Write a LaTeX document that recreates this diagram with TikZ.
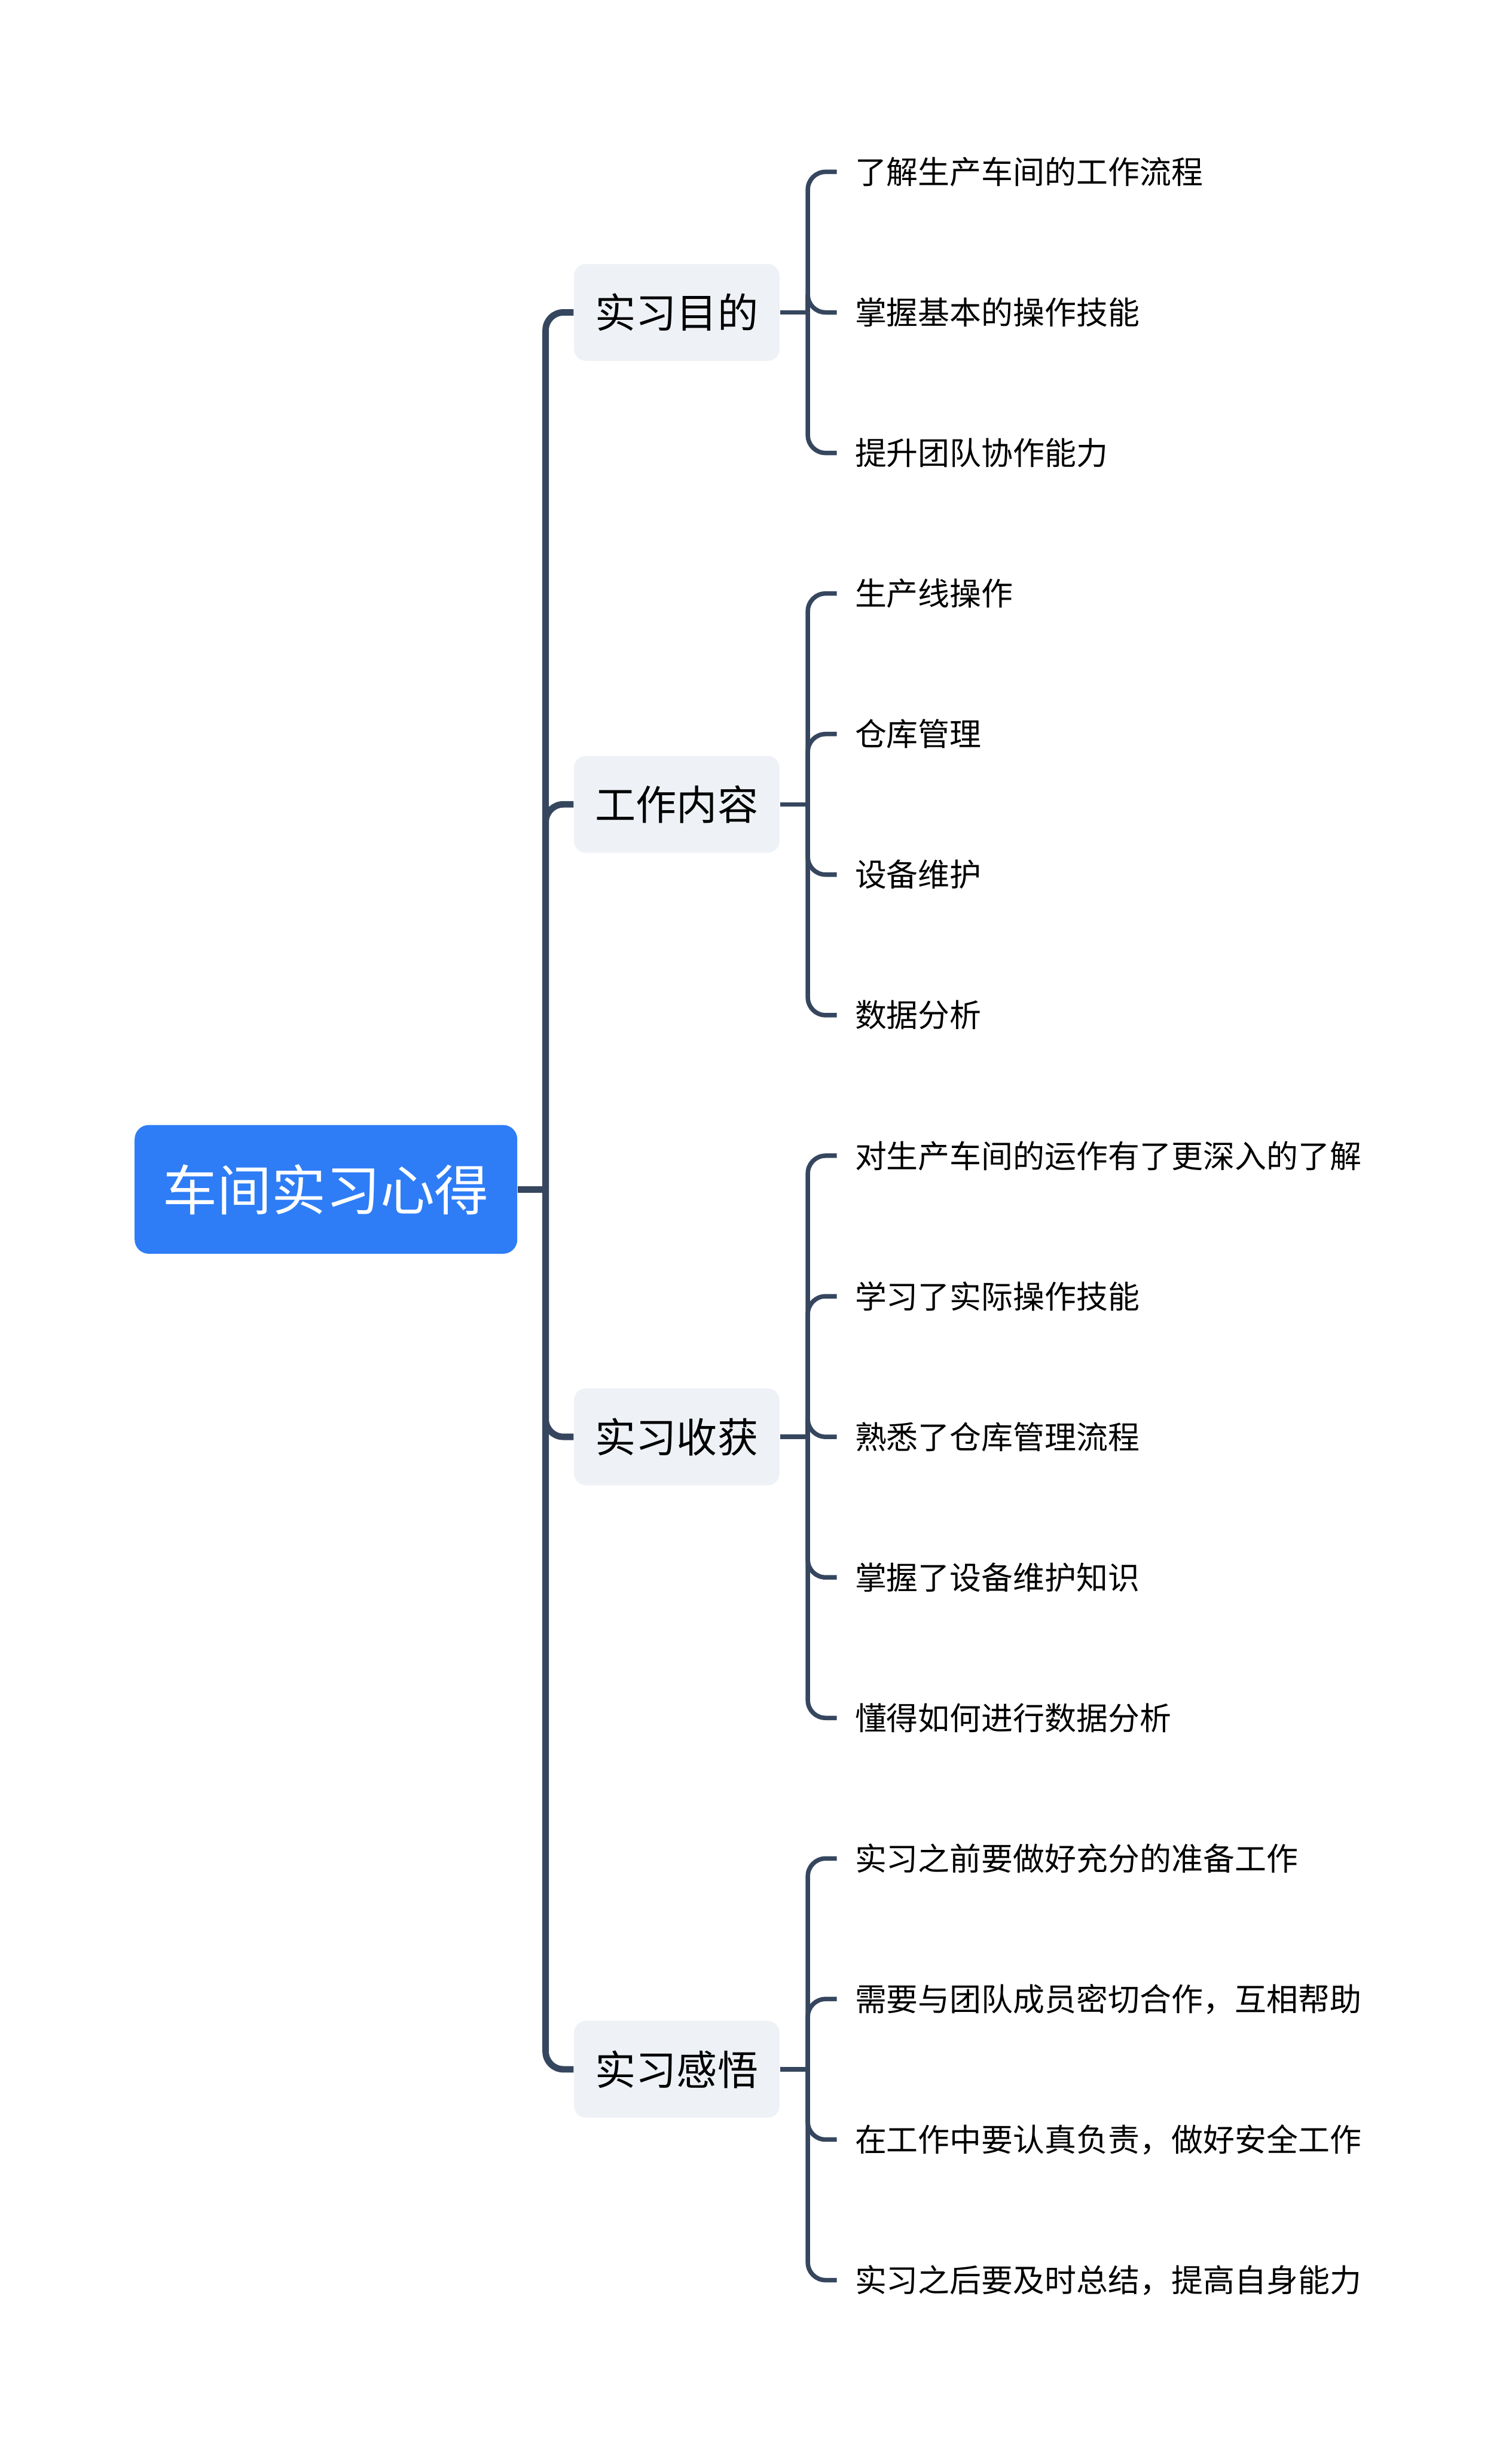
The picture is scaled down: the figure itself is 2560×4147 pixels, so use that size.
\documentclass[tikz,border=0pt]{standalone}
\usepackage{fontspec}
\setmainfont{Noto Sans CJK SC}
\definecolor{rootblue}{HTML}{2E7DF6}
\definecolor{linegray}{HTML}{36465E}
\definecolor{boxgray}{HTML}{EEF1F5}
\tikzset{
  rootbox/.style={fill=rootblue, text=white, rounded corners=6pt, inner sep=0pt,
    minimum width=162pt, minimum height=54.5pt, font=\fontsize{23}{26}\selectfont},
  topicbox/.style={fill=boxgray, text=black, rounded corners=5pt, inner sep=0pt,
    minimum width=87pt, minimum height=41pt, font=\fontsize{17.25}{20}\selectfont},
  leafbox/.style={anchor=west, inner xsep=7.5pt, inner ysep=0pt, text=black,
    font=\fontsize{13.4}{16}\selectfont},
  mainline/.style={draw=linegray, line width=2.75pt},
  subline/.style={draw=linegray, line width=1.9pt},
}
\begin{document}
\begin{tikzpicture}[x=0.25pt, y=-0.25pt]
\useasboundingbox (0,0) rectangle (2560,4147);
\pgfmathsetmacro\trunkx{924}
\pgfmathsetmacro\jx{1368}
\pgfmathsetmacro\leafx{1417}
\node[rootbox] (root) at (552,2014) {车间实习心得};
\node[topicbox] (b1) at (1146,529) {实习目的};
\node[topicbox] (b2) at (1146,1362) {工作内容};
\node[topicbox] (b3) at (1146,2433) {实习收获};
\node[topicbox] (b4) at (1146,3504) {实习感悟};
\foreach \i/\t in {0/了解生产车间的工作流程, 1/掌握基本的操作技能, 2/提升团队协作能力,
  3/生产线操作, 4/仓库管理, 5/设备维护, 6/数据分析,
  7/对生产车间的运作有了更深入的了解, 8/学习了实际操作技能, 9/熟悉了仓库管理流程,
  10/掌握了设备维护知识, 11/懂得如何进行数据分析,
  12/实习之前要做好充分的准备工作, 13/需要与团队成员密切合作，互相帮助,
  14/在工作中要认真负责，做好安全工作, 15/实习之后要及时总结，提高自身能力}
{
  \pgfmathsetmacro\ly{291+238*\i}
  \node[leafbox] (l\i) at (\leafx,\ly) {\t};
}
\coordinate (trunk) at (\trunkx,2014);
\draw[mainline] (root) -- (trunk);
\foreach \b in {b1,b2,b3,b4}
  \draw[mainline, rounded corners=7.5pt] (trunk) |- (\b.west);
\coordinate (j1) at (\jx,529);
\coordinate (j2) at (\jx,1362);
\coordinate (j3) at (\jx,2433);
\coordinate (j4) at (\jx,3504);
\foreach \b in {1,2,3,4}
  \draw[subline] (b\b) -- (j\b);
\foreach \i in {0,1,2}
  \draw[subline, rounded corners=7.5pt] (j1) |- (l\i.west);
\foreach \i in {3,...,6}
  \draw[subline, rounded corners=7.5pt] (j2) |- (l\i.west);
\foreach \i in {7,...,11}
  \draw[subline, rounded corners=7.5pt] (j3) |- (l\i.west);
\foreach \i in {12,...,15}
  \draw[subline, rounded corners=7.5pt] (j4) |- (l\i.west);
\end{tikzpicture}
\end{document}
